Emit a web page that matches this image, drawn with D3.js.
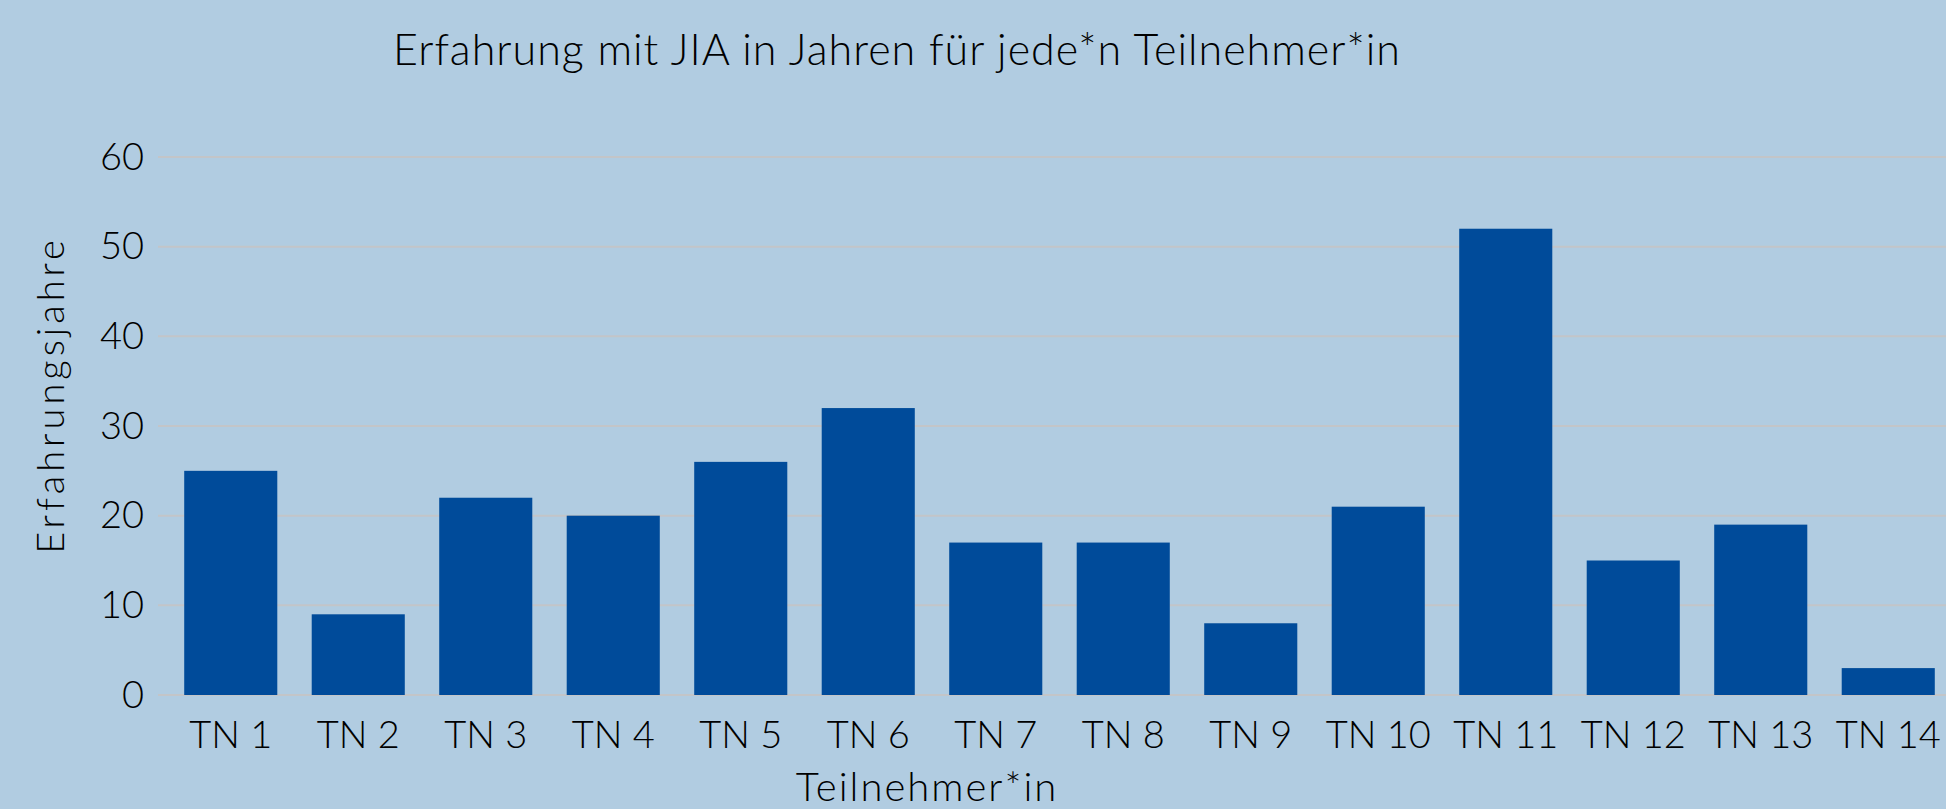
<!DOCTYPE html>
<html>
<head>
<meta charset="utf-8">
<script src="https://cdn.jsdelivr.net/npm/d3@7"></script>
<style>
  html, body { margin: 0; padding: 0; background: #b1cce1; overflow: hidden; }
  svg { display: block; font-family: 'Lato', 'Open Sans', sans-serif; font-weight: 300; }
</style>
</head>
<body>
<svg id="chart"></svg>
<script>
const categories = ['TN 1', 'TN 2', 'TN 3', 'TN 4', 'TN 5', 'TN 6', 'TN 7',
                    'TN 8', 'TN 9', 'TN 10', 'TN 11', 'TN 12', 'TN 13', 'TN 14'];
const years = [25, 9, 22, 20, 26, 32, 17, 17, 8, 21, 52, 15, 19, 3];
const yTicks = [0, 10, 20, 30, 40, 50, 60];

const width = 1946, height = 809;
const plot = { left: 158, right: 1946, top: 157, bottom: 695 };

const svg = d3.select('#chart')
    .attr('width', width)
    .attr('height', height);

svg.append('rect')
    .attr('width', width)
    .attr('height', height)
    .attr('fill', '#b1cce1');

// the plot area runs a little past the right edge of the picture
const x = d3.scaleBand()
    .domain(categories)
    .range([167, 1952])
    .paddingInner(0.27)
    .paddingOuter(0.135);

const y = d3.scaleLinear()
    .domain([0, 60])
    .range([plot.bottom, plot.top]);

// gridlines
svg.append('g')
    .attr('class', 'grid')
    .selectAll('line')
    .data(yTicks)
    .enter()
    .append('line')
        .attr('x1', plot.left)
        .attr('x2', plot.right)
        .attr('y1', d => y(d))
        .attr('y2', d => y(d))
        .attr('stroke', '#c3c5c8')
        .attr('stroke-width', 2);

// bars
svg.append('g')
    .attr('class', 'bars')
    .selectAll('rect')
    .data(years)
    .enter()
    .append('rect')
        .attr('x', (d, i) => x(categories[i]))
        .attr('width', x.bandwidth())
        .attr('y', d => y(d))
        .attr('height', d => y(0) - y(d))
        .attr('fill', '#004b9a');

// y axis labels
const yAxis = svg.append('g')
    .attr('transform', `translate(${plot.left - 14},0)`)
    .call(d3.axisLeft(y).tickValues(yTicks).tickSize(0).tickPadding(0));
yAxis.select('.domain').remove();
yAxis.selectAll('text')
    .attr('fill', '#000')
    .style('font-size', '38px')
    .style('font-family', "'Lato', sans-serif")
    .style('font-weight', 300);

// x axis labels
const xAxis = svg.append('g')
    .attr('transform', `translate(0,${plot.bottom})`)
    .call(d3.axisBottom(x).tickSize(0).tickPadding(26));
xAxis.select('.domain').remove();
xAxis.selectAll('text')
    .attr('fill', '#000')
    .style('font-size', '38px')
    .style('font-family', "'Lato', sans-serif")
    .style('font-weight', 300);

// title
svg.append('text')
    .attr('x', 897)
    .attr('y', 65)
    .attr('text-anchor', 'middle')
    .attr('fill', '#000')
    .style('font-size', '43px')
    .style('letter-spacing', '1px')
    .text('Erfahrung mit JIA in Jahren für jede*n Teilnehmer*in');

// axis titles
svg.append('text')
    .attr('x', 927)
    .attr('y', 801)
    .attr('text-anchor', 'middle')
    .attr('fill', '#000')
    .style('font-size', '40px')
    .style('letter-spacing', '2px')
    .text('Teilnehmer*in');

svg.append('text')
    .attr('transform', 'translate(64,395) rotate(-90)')
    .attr('text-anchor', 'middle')
    .attr('fill', '#000')
    .style('font-size', '38px')
    .style('letter-spacing', '4px')
    .text('Erfahrungsjahre');
</script>
</body>
</html>
